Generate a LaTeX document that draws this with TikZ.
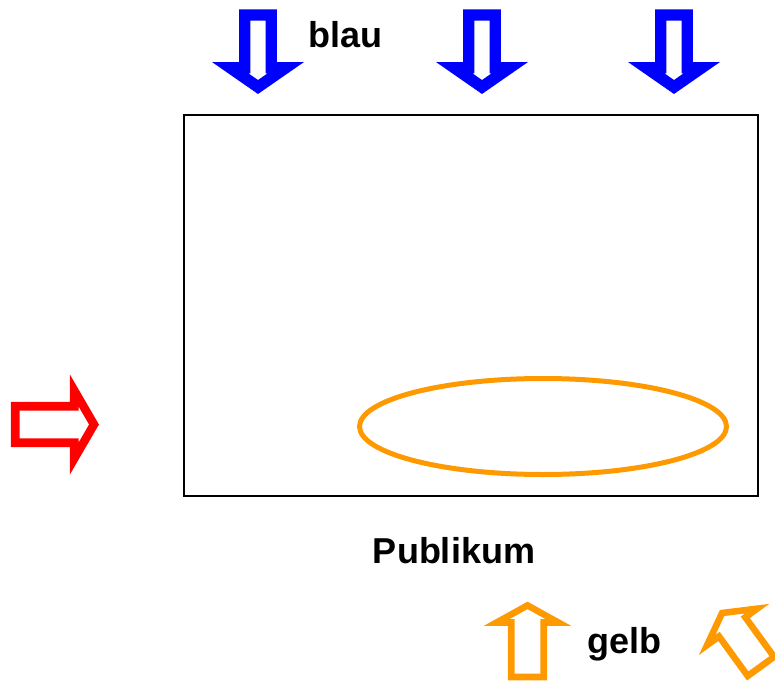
\documentclass[tikz,border=0pt]{standalone}
\usepackage{fontspec}
\setmainfont{Liberation Sans}
\usepackage{tikz}
\usepackage{xcolor}
\usetikzlibrary{positioning, calc}
\definecolor{gelbton}{RGB}{255,153,0}
\tikzset{
  blauarrow/.style={blue, line width=8.6pt},
  rotarrow/.style={red, line width=6.4pt},
  gelbarrow/.style={gelbton, line width=4.9pt},
  beschriftung/.style={font=\fontsize{27}{32}\selectfont\bfseries, inner sep=0pt, anchor=base},
  pics/blockarrow/.style n args={4}{code={
    \draw (0,0) -- (#2,#1) -- (#3,#1) -- (#3,#4) -- (-#3,#4) -- (-#3,#1) -- (-#2,#1) -- cycle;
  }},
}

\begin{document}
\begin{tikzpicture}[x=0.75pt, y=-0.75pt]
\useasboundingbox (0,0) rectangle (775,682);

% Buehne
\draw[line width=1.5pt] (184,115) rectangle (758,496);

% Publikum
\draw[gelbton, line width=3.75pt] (543,426.5) ellipse [x radius=183.5, y radius=48];
\node[beschriftung] (publikum) at (454,563) {Publikum};

% blau
\pic[blauarrow, rotate=180] at (258,87) {blockarrow={19.25}{27.7}{13.25}{72}};
\pic[blauarrow, rotate=180] at (482,87) {blockarrow={19.25}{27.7}{13.25}{72}};
\pic[blauarrow, rotate=180] at (674,87) {blockarrow={19.25}{27.7}{13.25}{72}};
\node[beschriftung] (blau) at (345.5,47.5) {blau};

% rot
\pic[rotarrow, rotate=-90] at (94,424.5) {blockarrow={19.75}{34}{18.25}{78.75}};

% gelb
\pic[gelbarrow] at (527.5,605.4) {blockarrow={17.1}{30.9}{16.25}{71.6}};
\pic[gelbarrow, rotate=36] at (722.1,613) {blockarrow={17.1}{30.9}{16.25}{66}};
\node[beschriftung] (gelb) at (624.5,653) {gelb};
\end{tikzpicture}
\end{document}
